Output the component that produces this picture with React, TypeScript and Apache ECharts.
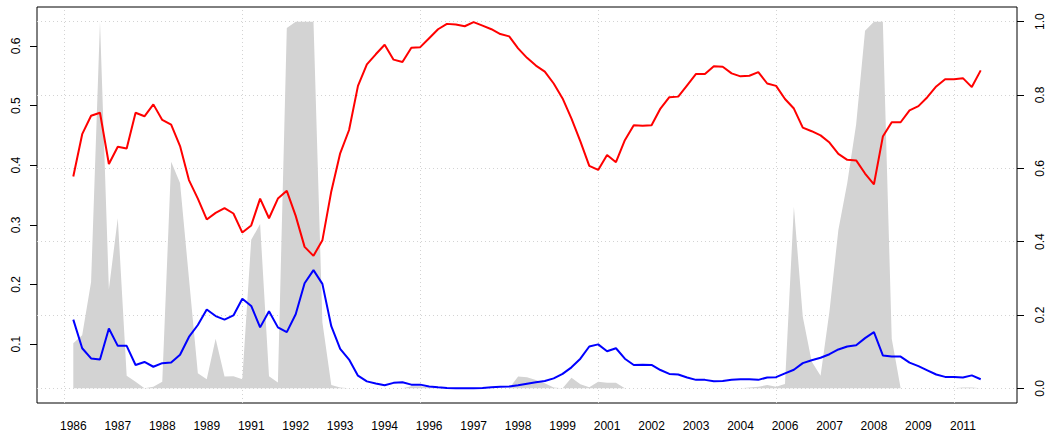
import React, { useEffect, useRef } from "react";
import * as echarts from "echarts";

// Quarterly observations 1986Q1 .. 2011Q3 (index 1..103)
const redSeries = [
  0.381, 0.452, 0.483, 0.488, 0.402, 0.431, 0.428, 0.488, 0.482, 0.502,
  0.476, 0.468, 0.432, 0.375, 0.344, 0.309, 0.320, 0.328, 0.319, 0.287,
  0.299, 0.344, 0.311, 0.344, 0.357, 0.315, 0.263, 0.248, 0.274, 0.356,
  0.420, 0.459, 0.533, 0.569, 0.586, 0.602, 0.577, 0.573, 0.597, 0.598,
  0.613, 0.628, 0.637, 0.636, 0.633, 0.640, 0.634, 0.628, 0.620, 0.616,
  0.596, 0.580, 0.567, 0.557, 0.537, 0.512, 0.478, 0.440, 0.399, 0.392,
  0.417, 0.405, 0.442, 0.467, 0.466, 0.467, 0.495, 0.514, 0.515, 0.534,
  0.553, 0.553, 0.566, 0.565, 0.554, 0.549, 0.550, 0.556, 0.537, 0.533,
  0.511, 0.495, 0.463, 0.457, 0.450, 0.438, 0.419, 0.409, 0.408, 0.386,
  0.368, 0.448, 0.472, 0.472, 0.492, 0.499, 0.514, 0.532, 0.544, 0.544,
  0.546, 0.531, 0.559,
];

const blueSeries = [
  0.141, 0.093, 0.076, 0.074, 0.126, 0.097, 0.097, 0.065, 0.070, 0.062,
  0.068, 0.069, 0.082, 0.112, 0.132, 0.158, 0.147, 0.141, 0.148, 0.176,
  0.164, 0.128, 0.155, 0.128, 0.120, 0.150, 0.202, 0.224, 0.201, 0.130,
  0.092, 0.074, 0.047, 0.0375, 0.034, 0.031, 0.035, 0.036, 0.032, 0.032,
  0.029, 0.0275, 0.0263, 0.0258, 0.0258, 0.0258, 0.0263, 0.0275, 0.0286, 0.029,
  0.031, 0.0336, 0.036, 0.038, 0.0425, 0.050, 0.061, 0.0755, 0.096, 0.0995,
  0.088, 0.093, 0.0755, 0.065, 0.0654, 0.065, 0.0565, 0.050, 0.049, 0.044,
  0.040, 0.040, 0.0375, 0.038, 0.040, 0.041, 0.041, 0.040, 0.044, 0.0445,
  0.051, 0.057, 0.068, 0.073, 0.077, 0.083, 0.091, 0.096, 0.098, 0.110,
  0.120, 0.081, 0.079, 0.079, 0.069, 0.063, 0.056, 0.049, 0.045, 0.045,
  0.044, 0.0475, 0.041,
];

// probability-like shaded series on the right axis
const graySeries = [
  0.123, 0.145, 0.29, 1.0, 0.27, 0.464, 0.034, 0.018, 0.0, 0.004,
  0.018, 0.618, 0.56, 0.30, 0.041, 0.025, 0.135, 0.032, 0.033, 0.025,
  0.405, 0.448, 0.033, 0.016, 0.983, 1.0, 1.0, 1.0, 0.18, 0.009,
  0.002, 0, 0, 0, 0, 0, 0, 0, 0.006, 0.006,
  0.002, 0, 0, 0, 0, 0, 0, 0, 0, 0,
  0.032, 0.030, 0.023, 0.014, 0.002, 0, 0.029, 0.011, 0.003, 0.018,
  0.015, 0.015, 0, 0, 0, 0, 0, 0, 0, 0,
  0, 0, 0, 0, 0, 0, 0.002, 0.004, 0.009, 0.004,
  0.012, 0.495, 0.195, 0.073, 0.034, 0.21, 0.432, 0.56, 0.72, 0.975,
  1.0, 1.0, 0.135, 0, 0, 0, 0, 0, 0, 0,
  0.002, 0.002, 0,
];

const xTickIndex = [1, 6, 11, 16, 21, 26, 31, 36, 41, 46, 51, 56, 61, 66, 71, 76, 81, 86, 91, 96, 101];
const xTickLabels = [
  "1986", "1987", "1988", "1989", "1991", "1992", "1993", "1994", "1996", "1997",
  "1998", "1999", "2001", "2002", "2003", "2004", "2006", "2007", "2008", "2009", "2011",
];
const xGridIndex = [0, 20, 40, 60, 80, 100];
const leftTicks = [0.1, 0.2, 0.3, 0.4, 0.5, 0.6];
const rightTicks = [0, 0.2, 0.4, 0.6, 0.8, 1.0];

const FONT = "'Liberation Sans', Arial, Helvetica, sans-serif";

export default function App() {
  const ref = useRef<HTMLDivElement>(null);

  useEffect(() => {
    if (!ref.current) return;
    const chart = echarts.init(ref.current, undefined, { renderer: "svg" });

    const toPairs = (arr: number[]) => arr.map((v, i) => [i + 1, v]);

    const gridLineData: any[] = [
      ...xGridIndex.map((x) => ({ xAxis: x })),
      ...rightTicks.map((y) => ({ yAxis: y })),
    ];

    chart.setOption({
      animation: false,
      backgroundColor: "#ffffff",
      grid: {
        left: 37,
        right: 34,
        top: 7,
        bottom: 34,
        show: true,
        borderColor: "#000000",
        borderWidth: 1,
        backgroundColor: "transparent",
      },
      xAxis: {
        type: "value",
        min: -3.08,
        max: 107.08,
        axisLine: { show: false, onZero: false },
        axisTick: { show: false, customValues: xTickIndex },
        splitLine: { show: false },
        axisLabel: {
          customValues: xTickIndex,
          formatter: (v: number) => {
            const k = xTickIndex.indexOf(Math.round(v));
            return k >= 0 ? xTickLabels[k] : "";
          },
          color: "#000",
          fontFamily: FONT,
          fontSize: 12,
          margin: 17,
        },
      },
      yAxis: [
        {
          type: "value",
          position: "left",
          min: 0.0012,
          max: 0.6653,
          axisLine: { show: false, onZero: false },
          splitLine: { show: false },
          axisTick: {
            show: true,
            inside: false,
            length: 7,
            customValues: leftTicks,
            lineStyle: { color: "#000" },
          },
          axisLabel: {
            customValues: leftTicks,
            rotate: 90,
            formatter: (v: number) => v.toFixed(1),
            color: "#000",
            fontFamily: FONT,
            fontSize: 12,
            margin: 15,
          },
        },
        {
          type: "value",
          position: "right",
          min: -0.04,
          max: 1.04,
          axisLine: { show: false, onZero: false },
          splitLine: { show: false },
          axisTick: {
            show: true,
            inside: false,
            length: 7,
            customValues: rightTicks,
            lineStyle: { color: "#000" },
          },
          axisLabel: {
            customValues: rightTicks,
            rotate: 90,
            formatter: (v: number) => v.toFixed(1),
            color: "#000",
            fontFamily: FONT,
            fontSize: 12,
            margin: 17,
          },
        },
      ],
      series: [
        {
          name: "shade",
          type: "line",
          xAxisIndex: 0,
          yAxisIndex: 1,
          data: toPairs(graySeries),
          symbol: "none",
          z: 2,
          lineStyle: { width: 0, color: "#D3D3D3" },
          areaStyle: { color: "#D3D3D3", opacity: 1 },
          markLine: {
            silent: true,
            z: 1,
            symbol: ["none", "none"],
            label: { show: false },
            lineStyle: { color: "#D3D3D3", type: [1, 3], width: 1 },
            data: gridLineData,
          },
        },
        {
          name: "red",
          type: "line",
          xAxisIndex: 0,
          yAxisIndex: 0,
          data: toPairs(redSeries),
          symbol: "none",
          z: 3,
          lineStyle: { width: 2, color: "#FF0000" },
        },
        {
          name: "blue",
          type: "line",
          xAxisIndex: 0,
          yAxisIndex: 0,
          data: toPairs(blueSeries),
          symbol: "none",
          z: 3,
          lineStyle: { width: 2, color: "#0000FF" },
        },
      ],
    });

    return () => chart.dispose();
  }, []);

  return (
    <div
      ref={ref}
      style={{ position: "fixed", left: 0, top: 0, width: 1051, height: 437 }}
    />
  );
}
